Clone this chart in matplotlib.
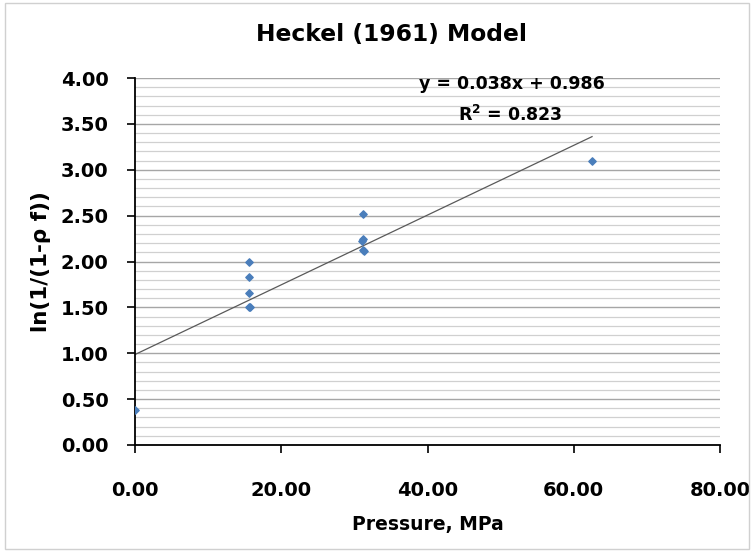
import matplotlib.pyplot as plt
import numpy as np
from matplotlib.ticker import MultipleLocator, FormatStrFormatter

# Heckel data
pressure = [0.0, 15.6, 15.6, 15.6, 15.6, 15.7, 31.2, 31.2, 31.1, 31.2, 31.3, 62.5]
heckel = [0.38, 2.00, 1.83, 1.66, 1.50, 1.50, 2.52, 2.25, 2.22, 2.13, 2.11, 3.09]

slope = 0.038
intercept = 0.986
r2 = 0.823

plt.rcParams['font.family'] = ['DejaVu Sans']

fig = plt.figure(figsize=(7.54, 5.52), dpi=100)
ax = fig.add_axes([135 / 754, 1 - 445 / 552, 585 / 754, 367 / 552])

# border around whole figure
fig.patches.append(plt.Rectangle((0.006, 0.006), 0.988, 0.988, transform=fig.transFigure,
                                 fill=False, edgecolor='#d0d0d0', linewidth=1))

ax.set_xlim(0, 80)
ax.set_ylim(0, 4)
ax.yaxis.set_major_locator(MultipleLocator(0.5))
ax.yaxis.set_minor_locator(MultipleLocator(0.1))
ax.xaxis.set_major_locator(MultipleLocator(20))
ax.xaxis.set_major_formatter(FormatStrFormatter('%.2f'))
ax.yaxis.set_major_formatter(FormatStrFormatter('%.2f'))

ax.grid(which='major', axis='y', color='#a6a6a6', linewidth=1.0)
ax.grid(which='minor', axis='y', color='#d0d0d0', linewidth=0.9)
ax.set_axisbelow(True)

for s in ['top', 'right']:
    ax.spines[s].set_visible(False)
ax.spines['left'].set_linewidth(1.3)
ax.spines['bottom'].set_linewidth(1.3)

ax.tick_params(which='major', direction='out', length=6, width=1.2,
               labelsize=14)
ax.tick_params(axis='x', pad=20)
ax.tick_params(axis='y', pad=13)
ax.tick_params(which='minor', length=0)
for lab in ax.get_xticklabels() + ax.get_yticklabels():
    lab.set_fontweight('bold')

# data and linear trendline
xs = np.array([0, max(pressure)])
ax.plot(xs, slope * xs + intercept, color='#595959', linewidth=0.9)
ax.scatter(pressure, heckel, marker='D', s=14, color='#4a7ebb', zorder=3)

ax.text(51.6, 3.93, 'y = 0.038x + 0.986', ha='center', va='center',
        fontsize=12.5, fontweight='bold')
ax.text(51.3, 3.60, 'R$^\\mathbf{2}$ = %.3f' % r2, ha='center', va='center',
        fontsize=12.5, fontweight='bold')

fig.text(392 / 754, 1 - 35 / 552, 'Heckel (1961) Model', ha='center', va='center',
         fontsize=16.8, fontweight='bold')
ax.set_xlabel('Pressure, MPa', fontsize=13.5, fontweight='bold', labelpad=11)
ax.set_ylabel('ln(1/(1-\u03c1 f))', fontsize=15.5, fontweight='bold', labelpad=7)

fig.savefig('out.png', dpi=100)
